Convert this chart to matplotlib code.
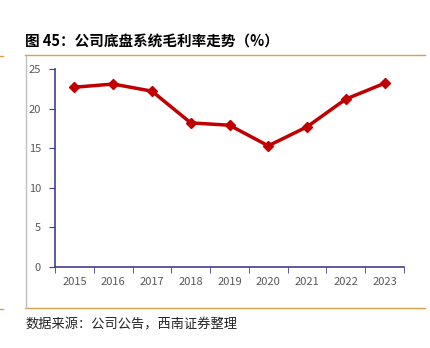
import matplotlib.pyplot as plt
from matplotlib.lines import Line2D

plt.rcParams['font.family'] = ['Noto Sans CJK SC', 'DejaVu Sans']

years = ['2015', '2016', '2017', '2018', '2019', '2020', '2021', '2022', '2023']
margin = [22.7, 23.1, 22.2, 18.2, 17.9, 15.3, 17.7, 21.2, 23.2]

W, H = 430, 348
fig = plt.figure(figsize=(W / 100, H / 100), dpi=100)
ax = fig.add_axes([55 / W, 1 - 267 / H, (404 - 55) / W, (267 - 69) / H])

x = list(range(len(years)))
ax.plot(x, margin, color='#C00000', linewidth=2.5, marker='D', markersize=5,
        clip_on=False)

ax.set_xlim(-0.5, len(years) - 0.5)
ax.set_ylim(0, 25)
ax.set_yticks([0, 5, 10, 15, 20, 25])
ax.set_xticks(x)
ax.set_xticklabels(years)
ax.set_xticks([i - 0.5 for i in range(len(years) + 1)], minor=True)

spine_col = '#3F3F8F'
for s in ['top', 'right']:
    ax.spines[s].set_visible(False)
for s in ['left', 'bottom']:
    ax.spines[s].set_color(spine_col)
    ax.spines[s].set_linewidth(1.2)

ax.tick_params(axis='y', direction='out', length=4, color=spine_col,
               labelsize=8, labelcolor='#595959', pad=6)
ax.tick_params(axis='x', which='major', length=0, labelsize=8,
               labelcolor='#595959', pad=7)
ax.tick_params(axis='x', which='minor', direction='out', length=4,
               color=spine_col)

# frame lines of the report figure
orange = '#D9A04A'
fig.add_artist(Line2D([25 / W, 425 / W], [1 - 55 / H, 1 - 55 / H], color=orange, lw=1))
fig.add_artist(Line2D([25 / W, 425 / W], [1 - 308 / H, 1 - 308 / H], color=orange, lw=1))
fig.add_artist(Line2D([0, 3 / W], [1 - 56 / H, 1 - 56 / H], color=orange, lw=1))
fig.add_artist(Line2D([0, 3 / W], [1 - 309 / H, 1 - 309 / H], color=orange, lw=1))
fig.add_artist(Line2D([26 / W, 26 / W], [1 - 56 / H, 1 - 308 / H], color='#BFBFBF', lw=1))

fig.text(25 / W, 1 - 42 / H, '图 45：公司底盘系统毛利率走势（%）', fontsize=10.5,
         fontweight='bold', va='center', ha='left')
fig.text(25 / W, 1 - 325 / H, '数据来源：公司公告，西南证券整理', fontsize=9.5,
         style='italic', va='center', ha='left', color='#222222')

fig.savefig('out.png', dpi=100)
